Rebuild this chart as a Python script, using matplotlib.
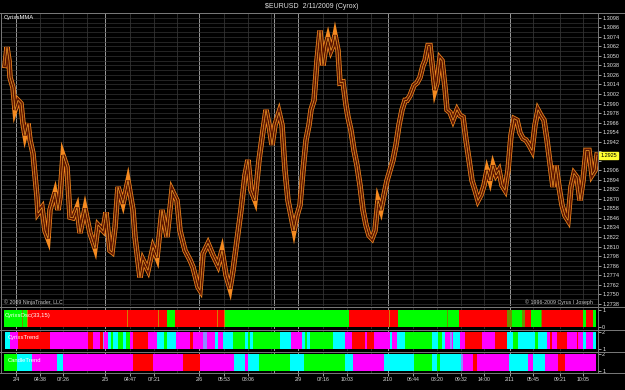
import numpy as np
import matplotlib.pyplot as plt
import matplotlib.patheffects as pe
from matplotlib.lines import Line2D

plt.rcParams['font.family'] = ['Liberation Sans', 'DejaVu Sans']

W, H = 625, 390

# price track: bar number, close
bars = [1, 3, 5, 6, 9, 11, 14, 17, 19, 21,
        24, 26, 29, 31, 33, 34, 38, 41, 44, 46,
        51, 54, 56, 59, 63, 66, 69, 73, 76, 81,
        86, 91, 94, 99, 102, 106, 108, 111, 114, 119,
        124, 129, 131, 136, 139, 144, 149, 153, 158, 163,
        168, 173, 176, 181, 186, 189, 194, 196, 199, 204,
        209, 214, 218, 222, 226, 229, 233, 237, 241, 244,
        247, 251, 255, 259, 262, 265, 268, 271, 275, 278,
        281, 284, 287, 290, 293, 296, 299, 302, 305, 307,
        310, 313, 316, 319, 322, 324, 327, 329, 331, 334,
        336, 339, 342, 344, 347, 350, 353, 356, 359, 362,
        365, 368, 371, 374, 377, 380, 383, 386, 389, 392,
        395, 398, 401, 403, 406, 410, 413, 416, 419, 421,
        424, 426, 428, 431, 433, 436, 438, 441, 443, 446,
        449, 453, 456, 459, 462, 465, 468, 471, 474, 477,
        480, 483, 486, 489, 492, 495, 498, 501, 504, 507,
        510, 513, 516, 519, 522, 525, 528, 531, 534, 537,
        540, 543, 546, 549, 552, 555, 558, 561, 564, 567,
        570, 573, 576, 579, 582, 585, 588, 591, 593]
close = [1.3038, 1.3061, 1.3044, 1.3023, 1.3010, 1.2982, 1.2994, 1.2990, 1.2965, 1.2950,
         1.2965, 1.2944, 1.2927, 1.2900, 1.2872, 1.2852, 1.2859, 1.2830, 1.2820, 1.2856,
         1.2878, 1.2856, 1.2872, 1.2925, 1.2910, 1.2847, 1.2846, 1.2859, 1.2827, 1.2858,
         1.2827, 1.2808, 1.2837, 1.2830, 1.2853, 1.2805, 1.2803, 1.2834, 1.2885, 1.2864,
         1.2893, 1.2856, 1.2822, 1.2771, 1.2793, 1.2780, 1.2809, 1.2796, 1.2856, 1.2822,
         1.2881, 1.2868, 1.2830, 1.2805, 1.2793, 1.2784, 1.2759, 1.2755, 1.2801, 1.2814,
         1.2799, 1.2786, 1.2805, 1.2774, 1.2757, 1.2780, 1.2818, 1.2856, 1.2900, 1.2919,
         1.2881, 1.2868, 1.2919, 1.2956, 1.2982, 1.2963, 1.2938, 1.2963, 1.2979, 1.2963,
         1.2906, 1.2868, 1.2849, 1.2830, 1.2849, 1.2862, 1.2906, 1.2944, 1.2963, 1.2982,
         1.2994, 1.3044, 1.3082, 1.3038, 1.3063, 1.3073, 1.3057, 1.3063, 1.3076, 1.3057,
         1.3016, 1.3017, 1.2988, 1.2973, 1.2956, 1.2931, 1.2912, 1.2887, 1.2856, 1.2837,
         1.2824, 1.2820, 1.2830, 1.2868, 1.2856, 1.2875, 1.2893, 1.2906, 1.2919, 1.2938,
         1.2963, 1.2982, 1.2994, 1.2994, 1.3000, 1.3013, 1.3016, 1.3023, 1.3038, 1.3044,
         1.3063, 1.3063, 1.3041, 1.3007, 1.3016, 1.3047, 1.3044, 1.3010, 1.2982, 1.2979,
         1.2969, 1.2982, 1.2975, 1.2973, 1.2944, 1.2919, 1.2893, 1.2881, 1.2868, 1.2875,
         1.2887, 1.2906, 1.2893, 1.2912, 1.2900, 1.2906, 1.2887, 1.2881, 1.2906, 1.2950,
         1.2971, 1.2969, 1.2953, 1.2946, 1.2944, 1.2938, 1.2931, 1.2963, 1.2982, 1.2975,
         1.2969, 1.2944, 1.2915, 1.2885, 1.2912, 1.2885, 1.2862, 1.2849, 1.2843, 1.2885,
         1.2902, 1.2897, 1.2868, 1.2893, 1.2931, 1.2931, 1.2900, 1.2906, 1.2925]
last_price = 1.2925

price_ticks = [1.2738, 1.2750, 1.2762, 1.2774, 1.2786, 1.2798, 1.2810, 1.2822,
               1.2834, 1.2846, 1.2858, 1.2870, 1.2882, 1.2894, 1.2906, 1.2918,
               1.2930, 1.2942, 1.2954, 1.2966, 1.2978, 1.2990, 1.3002, 1.3014,
               1.3026, 1.3038, 1.3050, 1.3062, 1.3074, 1.3086, 1.3098]

# time axis
time_pos = [12, 36, 59, 101, 126, 150, 195, 220, 244, 294, 319,
            343, 384, 409, 433, 457, 480, 506, 529, 556, 579]
time_labels = ['2/4', '04:38', '07:26', '2/5', '04:47', '07:21', '2/6', '05:53', '08:06',
               '2/9', '07:16', '10:03', '2/10', '06:44', '08:20', '09:32', '14:00',
               '2/11', '05:45', '09:21', '10:05']
day_lines = [12, 101, 195, 270, 294, 384, 506]
hour_lines = [36, 59, 83, 126, 150, 173, 220, 244, 267, 319, 343, 367,
              409, 433, 457, 480, 529, 556, 579]

# indicator ribbons: segment edges (bar numbers) and state per segment
osc_edges = [0, 18, 19, 23, 24, 123, 124, 154, 155, 163, 171, 213, 214, 220, 221, 345,
             385, 386, 394, 443, 444, 455, 503, 508, 518, 521, 527, 537, 538, 579, 582,
             589, 592]
osc_state = "GOGYRYRYRG" "RYRYGRYRGO" "GROGORGORG" "RG"

trend_edges = [1, 6, 14, 46, 84, 89, 96, 99, 100, 104, 107, 109, 114, 119, 122, 126,
               129, 144, 153, 160, 163, 172, 186, 189, 199, 203, 211, 214, 219, 229,
               241, 244, 246, 249, 276, 287, 298, 301, 303, 306, 329, 341, 348, 361,
               363, 370, 386, 388, 393, 401, 428, 434, 438, 441, 446, 448, 449, 456,
               461, 478, 491, 503, 509, 514, 531, 534, 543, 546, 548, 553, 563, 573,
               574, 579, 582, 589, 592]
trend_state = ("CMRMRMRPMC" "GCGCGMRMCG" "CMRMPMCMCG" "CGCGCMCGCG"
               "CMRMRMCMCG" "CGCMPMCMRM" "RCGCGCMRMR" "MRMCMC")

candle_edges = [0, 13, 28, 53, 59, 129, 149, 179, 196, 230, 241, 244, 255, 286, 300,
                341, 349, 380, 410, 428, 433, 436, 457, 459, 469, 473, 505, 524, 529,
                541, 554, 561, 592]
candle_state = "GCMCMRMRMC" "MCGCGCMCGC" "GCPMRMCMCM" "RM"

state_colors = {'G': '#00ff00', 'R': '#ff0000', 'M': '#ff00ff', 'C': '#00ffff',
                'P': '#8c8cff', 'O': '#6f9000', 'Y': '#d08000'}

TXT = '#e0e0e0'
GRID = '#333333'
LINE = '#7a7a7a'


def px_axes(fig, x0, y0, x1, y1):
    ax = fig.add_axes([x0 / W, 1 - y1 / H, (x1 - x0) / W, (y1 - y0) / H])
    ax.set_facecolor('black')
    ax.set_xlim(-2, 594)
    for s in ax.spines.values():
        s.set_visible(False)
    ax.yaxis.tick_right()
    ax.tick_params(axis='y', colors=TXT, labelsize=4, length=2, width=0.5, pad=1)
    ax.tick_params(axis='x', bottom=False, labelbottom=False)
    return ax


def vgrid(ax):
    for b in hour_lines:
        ax.axvline(b, color=GRID, lw=0.6, zorder=0)
    for b in day_lines:
        ax.axvline(b, color='#9a9a9a', lw=0.7, zorder=0)


def ribbon(ax, edges, state, lo, hi):
    edges = np.array(edges)
    cols = [state_colors[c] for c in state]
    ax.bar(edges[:-1], hi - lo, width=np.diff(edges), bottom=lo, align='edge',
           color=cols, linewidth=0, zorder=2)


def ftext(x, y, s, **kw):
    fig.text(x / W, 1 - y / H, s, **kw)


fig = plt.figure(figsize=(W / 100, H / 100), dpi=100, facecolor='black')

# main price panel
ax = px_axes(fig, 2, 13, 598, 306)
ax.set_ylim(1.27351, 1.31037)
ax.set_yticks(price_ticks)
ax.set_yticklabels(['' if p in (1.2930, 1.2918) else f'{p:.4f}' for p in price_ticks])
ax.set_yticks(np.arange(1.2744, 1.3104, 0.0012), minor=True)
ax.tick_params(axis='y', which='minor', length=0)
ax.grid(True, axis='y', which='both', color=GRID, lw=0.5, zorder=0)
vgrid(ax)
ax.plot(bars, close, color='#5e1600', lw=2.8, solid_joinstyle='miter', zorder=3,
        path_effects=[pe.Stroke(linewidth=3.9, foreground='#f58a20'), pe.Normal()])
ax.plot(bars, close, color='#ffb030', lw=0.45, zorder=4)
ax.text(1.004, last_price, f'{last_price:.4f}', transform=ax.get_yaxis_transform(),
        fontsize=4, ha='left', va='center', color='black', zorder=10, clip_on=False,
        bbox=dict(boxstyle='square,pad=0.2', fc='#ffff30', ec='#ffff30'))

# indicator panels
ax2 = px_axes(fig, 2, 308, 598, 329)
ax2.set_ylim(-0.1, 1.1)
ax2.set_yticks([0, 1])
vgrid(ax2)
ribbon(ax2, osc_edges, osc_state, 0, 1)

ax3 = px_axes(fig, 2, 330, 598, 351)
ax3.set_ylim(0.9, 2.1)
ax3.set_yticks([1, 2])
vgrid(ax3)
ribbon(ax3, trend_edges, trend_state, 1, 2)

ax4 = px_axes(fig, 2, 352, 598, 373)
ax4.set_ylim(0.9, 2.1)
ax4.set_yticks([1, 2])
vgrid(ax4)
ribbon(ax4, candle_edges, candle_state, 1, 2)
ax4.set_xticks(time_pos)
ax4.set_xticklabels(time_labels)
ax4.tick_params(axis='x', bottom=True, labelbottom=True, colors=TXT, labelsize=3.7,
                length=2, width=0.5, pad=0.8)

# frame lines
for y in (12.5, 307, 329.5, 351.5, 373):
    fig.add_artist(Line2D([0, 1], [1 - y / H, 1 - y / H], color=LINE, lw=0.7))
fig.add_artist(Line2D([598 / W, 598 / W], [1 - 13 / H, 1 - 373 / H], color=LINE, lw=0.7))
fig.add_artist(Line2D([1.5 / W, 1.5 / W], [1 - 13 / H, 1 - 373 / H], color=LINE, lw=0.7))

# texts
ftext(312, 6, '$EURUSD  2/11/2009 (Cyrox)', color=TXT, fontsize=5, ha='center', va='center')
ftext(4, 17, 'CyrixsMMA', color='white', fontsize=4.2, ha='left', va='center')
ftext(4, 302, '\u00a9 2009 NinjaTrader, LLC', color='#c8c8c8', fontsize=3.8, ha='left', va='center')
ftext(593, 302, '\u00a9 1996-2009 Cyrus I Joseph', color='#c8c8c8', fontsize=3.8,
      ha='right', va='center')
ftext(5, 316, 'CyrixsOsc(33,15)', color='white', fontsize=4.2, ha='left', va='center')
ftext(8, 338, 'CyrixsTrend', color='white', fontsize=4.2, ha='left', va='center')
ftext(8, 360, 'CandleTrend', color='white', fontsize=4.2, ha='left', va='center')

fig.savefig('out.png', dpi=100, facecolor='black')
